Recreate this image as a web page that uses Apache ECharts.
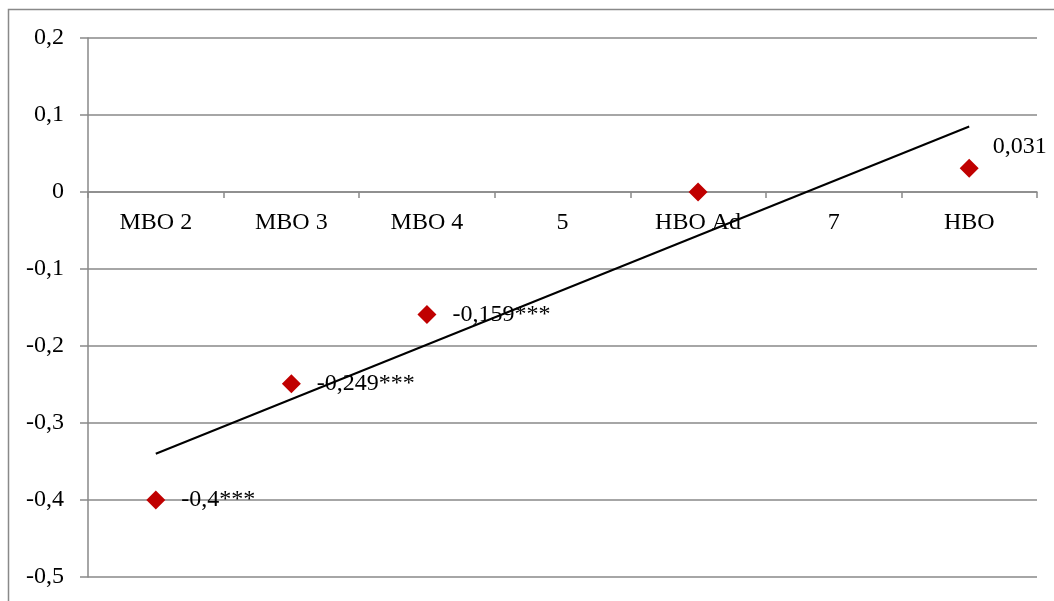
<!DOCTYPE html>
<html>
<head>
<meta charset="utf-8">
<style>html,body{margin:0;padding:0;background:#fff}#c{width:1054px;height:601px}</style>
<script src="https://cdn.jsdelivr.net/npm/echarts@6/dist/echarts.min.js"></script>
</head>
<body>
<div id="c"></div>
<script>
const categories = ['MBO 2', 'MBO 3', 'MBO 4', '5', 'HBO Ad', '7', 'HBO'];
const pointValues = [-0.4, -0.249, -0.159, null, 0, null, 0.031];
const pointLabels = ['-0,4***', '-0,249***', '-0,159***', '', '', '', '0,031'];
const trendValues = [-0.34, null, null, null, null, null, 0.085];
const yTicks = { min: -0.5, max: 0.2, step: 0.1 };

const FONT = '"Liberation Serif", "DejaVu Serif", serif';
const GRAY = '#898989';
const GRID = { left: 88, right: 17, top: 38, bottom: 24 };
const plotH = 601 - GRID.top - GRID.bottom;
// offset that puts the label axis on the zero line (computed from the value scale)
const zeroOffset = -plotH * (0 - yTicks.min) / (yTicks.max - yTicks.min);

const chart = echarts.init(document.getElementById('c'), null, { renderer: 'canvas' });
chart.setOption({
  animation: false,
  backgroundColor: '#fff',
  graphic: [{
    type: 'rect', shape: { x: 8.5, y: 9.5, width: 1100, height: 700 },
    style: { fill: 'none', stroke: GRAY, lineWidth: 1.5 }, silent: true, z: -1
  }],
  grid: Object.assign({ containLabel: false, outerBoundsMode: 'none' }, GRID),
  xAxis: [{
    type: 'category', data: categories, boundaryGap: true,
    axisLine: { onZero: true, lineStyle: { color: GRAY, width: 1.5 } },
    axisTick: { show: true, length: 6, lineStyle: { color: GRAY, width: 1.5 } },
    axisLabel: { show: false },
    splitLine: { show: false }
  }, {
    type: 'category', data: categories, boundaryGap: true, position: 'bottom',
    offset: zeroOffset,
    axisLine: { show: false }, axisTick: { show: false },
    axisLabel: { color: '#000', fontFamily: FONT, fontSize: 24, margin: 19 },
    splitLine: { show: false }
  }],
  yAxis: {
    type: 'value', min: yTicks.min, max: yTicks.max, interval: yTicks.step,
    axisLine: { show: true, onZero: false, lineStyle: { color: GRAY, width: 1.5 } },
    axisTick: { show: true, length: 8, lineStyle: { color: GRAY, width: 1.5 } },
    axisLabel: {
      color: '#000', fontFamily: FONT, fontSize: 24, margin: 24,
      formatter: v => Math.abs(v) < 1e-9 ? '0' : v.toFixed(1).replace('.', ',')
    },
    splitLine: { show: true, lineStyle: { color: GRAY, width: 1.5 } }
  },
  series: [
    {
      type: 'scatter', data: pointValues, symbol: 'diamond', symbolSize: 19,
      itemStyle: { color: '#C00000', opacity: 1 }, z: 2,
      label: {
        show: true, position: 'right', distance: 16, color: '#000',
        fontFamily: FONT, fontSize: 24,
        formatter: p => pointLabels[p.dataIndex]
      },
      labelLayout: p => p.dataIndex === 6 ? { dx: -2, dy: -21 } : {}
    },
    {
      type: 'line', data: trendValues, connectNulls: true, symbol: 'none',
      lineStyle: { color: '#000', width: 2 }, z: 3
    }
  ]
});
</script>
</body>
</html>
